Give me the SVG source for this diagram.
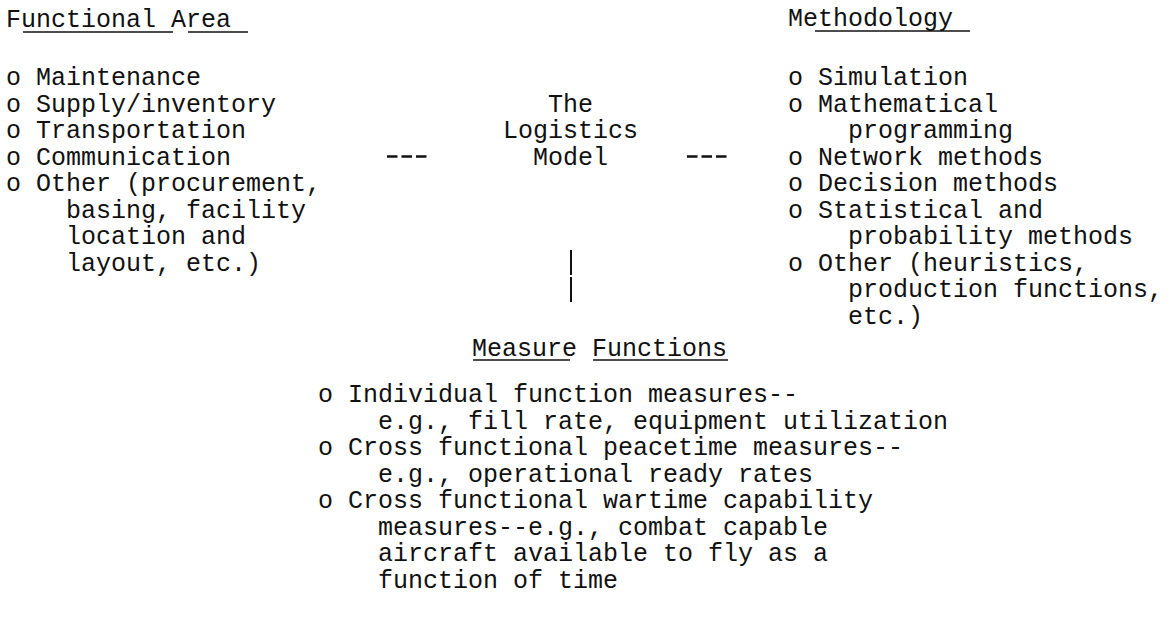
<svg xmlns="http://www.w3.org/2000/svg" width="1175" height="620" viewBox="0 0 1175 620">
<style>
text{font-family:"Liberation Mono","Courier New",monospace;font-size:25px;fill:#111;white-space:pre}
.ul{stroke:#111;stroke-width:1.6;fill:none}
.dash{stroke:#111;stroke-width:2.4;fill:none;stroke-dasharray:10.5 4}
.bar{stroke:#111;stroke-width:2;fill:none}
</style>
<rect width="1175" height="620" fill="#fff"/>
<g id="functional-area">
<text x="6" y="27">Functional Area</text>
<line class="ul" x1="23" y1="32" x2="173" y2="32"/>
<line class="ul" x1="188" y1="32" x2="248" y2="32"/>
<text x="6" y="85">o Maintenance</text>
<text x="6" y="111.5">o Supply/inventory</text>
<text x="6" y="138">o Transportation</text>
<text x="6" y="164.5">o Communication</text>
<text x="6" y="191">o Other (procurement,</text>
<text x="66" y="217.5">basing, facility</text>
<text x="66" y="244">location and</text>
<text x="66" y="270.5">layout, etc.)</text>
</g>
<g id="logistics-model">
<text x="548" y="111.5">The</text>
<text x="503" y="138">Logistics</text>
<text x="533" y="164.5">Model</text>
</g>
<g id="methodology">
<text x="788" y="26">Methodology</text>
<line class="ul" x1="815" y1="31" x2="970" y2="31"/>
<text x="788" y="85">o Simulation</text>
<text x="788" y="111.5">o Mathematical</text>
<text x="848" y="138">programming</text>
<text x="788" y="164.5">o Network methods</text>
<text x="788" y="191">o Decision methods</text>
<text x="788" y="217.5">o Statistical and</text>
<text x="848" y="244">probability methods</text>
<text x="788" y="270.5">o Other (heuristics,</text>
<text x="848" y="297">production functions,</text>
<text x="848" y="323.5">etc.)</text>
</g>
<g id="measure-functions">
<text x="472" y="356">Measure Functions</text>
<line class="ul" x1="473" y1="360" x2="570" y2="360"/>
<line class="ul" x1="593" y1="360" x2="728" y2="360"/>
<text x="318" y="402">o Individual function measures--</text>
<text x="378" y="428.5">e.g., fill rate, equipment utilization</text>
<text x="318" y="455">o Cross functional peacetime measures--</text>
<text x="378" y="481.5">e.g., operational ready rates</text>
<text x="318" y="508">o Cross functional wartime capability</text>
<text x="378" y="534.5">measures--e.g., combat capable</text>
<text x="378" y="561">aircraft available to fly as a</text>
<text x="378" y="587.5">function of time</text>
</g>
<g id="connectors">
<line class="dash" x1="387" y1="156.5" x2="427" y2="156.5"/>
<line class="dash" x1="687" y1="156.5" x2="727" y2="156.5"/>
<line class="bar" x1="571" y1="250" x2="571" y2="275"/>
<line class="bar" x1="571" y1="277" x2="571" y2="302"/>
</g>
</svg>
